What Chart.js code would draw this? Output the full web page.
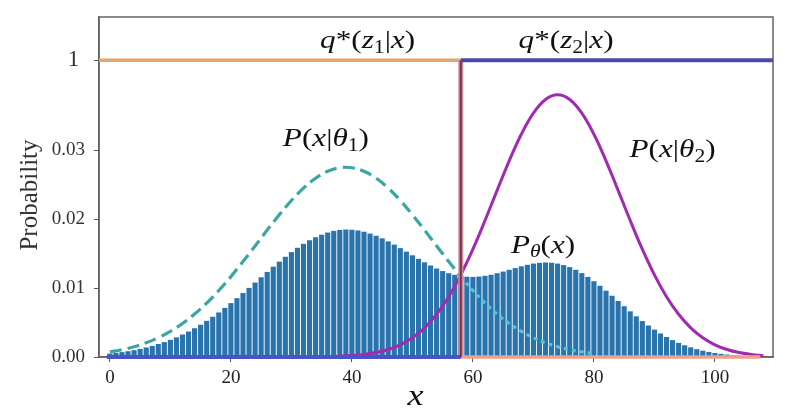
<!DOCTYPE html>
<html><head><meta charset="utf-8">
<script src="https://cdn.jsdelivr.net/npm/chart.js@4/dist/chart.umd.min.js"></script>
<style>html,body{margin:0;padding:0;background:#fff}#wrap{width:793px;height:420px}</style>
</head><body><div id="wrap"><canvas id="c" width="793" height="420"></canvas></div>
<script>
// ---- data ----
// mixture histogram P_theta(x), one bar per integer x = 0..106
const barValues = [
0.00050,0.00060,0.00071,0.00084,0.00100,0.00118,0.00138,0.00161,0.00188,0.00216,
0.00249,0.00285,0.00326,0.00369,0.00417,0.00468,0.00524,0.00583,0.00646,0.00712,
0.00781,0.00853,0.00927,0.01002,0.01079,0.01156,0.01233,0.01309,0.01382,0.01453,
0.01520,0.01583,0.01640,0.01692,0.01736,0.01773,0.01804,0.01828,0.01842,0.01848,
0.01845,0.01834,0.01816,0.01789,0.01757,0.01720,0.01676,0.01629,0.01578,0.01527,
0.01474,0.01423,0.01373,0.01326,0.01283,0.01246,0.01215,0.01191,0.01174,0.01164,
0.01161,0.01166,0.01177,0.01192,0.01214,0.01238,0.01264,0.01289,0.01314,0.01336,
0.01354,0.01365,0.01370,0.01366,0.01354,0.01332,0.01303,0.01264,0.01216,0.01161,
0.01099,0.01032,0.00961,0.00888,0.00812,0.00736,0.00662,0.00590,0.00521,0.00457,
0.00397,0.00341,0.00290,0.00245,0.00205,0.00170,0.00140,0.00114,0.00092,0.00074,
0.00058,0.00046,0.00036,0.00028,0.00021,0.00016,0.00012];
// P(x|theta1) dashed curve
const theta1X = [0,2,4,6,8,10,12,14,16,18,20,22,24,26,28,30,32,34,36,38,40,42,44,46,48,50,52,54,56,58,60,62,64,66,68,70,72,74,76,78,80];
const theta1Y = [0.00074,0.00106,0.00149,0.00206,0.00280,0.00372,0.00486,0.00622,0.00782,0.00964,0.01165,0.01383,0.01610,0.01840,0.02062,0.02268,0.02448,0.02591,0.02692,0.02743,0.02743,0.02692,0.02591,0.02448,0.02268,0.02062,0.01840,0.01610,0.01383,0.01165,0.00964,0.00782,0.00622,0.00486,0.00372,0.00280,0.00206,0.00149,0.00106,0.00074,0.00051];
// P(x|theta2) solid curve
const theta2X = [36,38,40,42,44,46,48,50,52,54,56,58,60,62,64,66,68,70,72,74,76,78,80,82,84,86,88,90,92,94,96,98,100,102,104,106,108];
const theta2Y = [0.00008,0.00011,0.00020,0.00037,0.00064,0.00109,0.00177,0.00279,0.00423,0.00619,0.00874,0.01190,0.01562,0.01978,0.02415,0.02843,0.03228,0.03534,0.03732,0.03800,0.03732,0.03534,0.03228,0.02843,0.02415,0.01978,0.01562,0.01190,0.00874,0.00619,0.00423,0.00279,0.00177,0.00109,0.00064,0.00037,0.00020];
// posteriors q*(z1|x), q*(z2|x): step at x = 58
const splitX = 58;
const q1X = [-1.8, splitX, splitX, 107.5];
const q1Y = [1, 1, 0, 0];
const q2X = [-0.5, splitX, splitX, 109.6];
const q2Y = [0, 0, 1, 1];
// axes
const xTicks = [0, 20, 40, 60, 80, 100];
const yTicks = [0, 0.01, 0.02, 0.03];
const ONE_AT = 0.0430;   // where the broken axis places probability "1"

const pts = (xs, ys) => xs.map((x, i) => ({x: x, y: ys[i] === 1 ? ONE_AT : ys[i]}));
const SERIF = '"Liberation Serif", "Times New Roman", serif';

function drawRich(ctx, segs, cx, by, size, sx) {
  const fontFor = st => (st.indexOf('i') >= 0 ? 'italic ' : '') + Math.round(st[0] === 's' ? size * 0.68 : size) + 'px ' + SERIF;
  let w = 0; const ws = [];
  segs.forEach(([t, st]) => { ctx.font = fontFor(st); const m = ctx.measureText(t).width; ws.push(m); w += m; });
  ctx.save(); ctx.translate(cx, by); ctx.scale(sx, 1);
  ctx.fillStyle = '#111'; ctx.textBaseline = 'alphabetic'; ctx.textAlign = 'left';
  let x = -w / 2;
  segs.forEach(([t, st], i) => { ctx.font = fontFor(st); ctx.fillText(t, x, st[0] === 's' ? size * 0.18 : 0); x += ws[i]; });
  ctx.restore();
}

const labels = [
  {x: 42.6, y: 0.0448, segs: [['q','i'],['*(','n'],['z','i'],['1','s'],['|','n'],['x','i'],[')','n']]},
  {x: 75.4, y: 0.0448, segs: [['q','i'],['*(','n'],['z','i'],['2','s'],['|','n'],['x','i'],[')','n']]},
  {x: 35.7, y: 0.0306, segs: [['P','i'],['(','n'],['x','i'],['|','n'],['θ','i'],['1','s'],[')','n']]},
  {x: 93.0, y: 0.0290, segs: [['P','i'],['(','n'],['x','i'],['|','n'],['θ','i'],['2','s'],[')','n']]},
  {x: 71.6, y: 0.0151, segs: [['P','i'],['θ','si'],['(','n'],['x','i'],[')','n']]}
];

const decor = {
  id: 'decor',
  beforeDatasetsDraw(chart) {
    const {ctx, chartArea: a} = chart;
    ctx.save(); ctx.strokeStyle = '#666'; ctx.lineWidth = 1.5;
    ctx.strokeRect(a.left, a.top, a.right - a.left, a.bottom - a.top);
    ctx.restore();
  },
  afterDraw(chart) {
    const {ctx} = chart; const xs = chart.scales.x, ys = chart.scales.y;
    labels.forEach(l => drawRich(ctx, l.segs, xs.getPixelForValue(l.x), ys.getPixelForValue(l.y), 26, 1.2));
    ctx.save(); ctx.fillStyle = '#333'; ctx.font = '25px ' + SERIF; ctx.textAlign = 'center'; ctx.textBaseline = 'middle';
    ctx.translate(30, 195); ctx.rotate(-Math.PI / 2); ctx.fillText('Probability', 0, 0); ctx.restore();
    drawRich(ctx, [['x','i']], xs.getPixelForValue(50.5), 405, 30, 1.2);
  }
};

new Chart(document.getElementById('c'), {
  type: 'bar',
  data: {
    datasets: [
      {type: 'line', data: pts(q2X, q2Y), order: 1, borderWidth: 4, pointRadius: 0, tension: 0, clip: false,
       borderColor: '#4a4ea8',
       segment: {borderColor: c => c.p0.parsed.x === c.p1.parsed.x ? '#6a3272' : (c.p0.parsed.y === 0 ? '#4a52c8' : '#4a4aa6'),
                 borderWidth: c => c.p0.parsed.x === c.p1.parsed.x ? 2 : 4}},
      {type: 'line', data: pts(q1X, q1Y), order: 2, borderWidth: 3.5, pointRadius: 0, tension: 0, clip: false,
       borderColor: '#e2a66c',
       segment: {borderColor: c => c.p0.parsed.x === c.p1.parsed.x ? '#d98c84' : (c.p0.parsed.y === 0 ? '#eda08a' : '#e2a66c'),
                 borderWidth: c => c.p0.parsed.x === c.p1.parsed.x ? 5 : 3.5}},
      {type: 'line', data: pts(theta2X, theta2Y), order: 3, borderColor: '#a02ab0', borderWidth: 3, pointRadius: 0, tension: 0.4},
      {type: 'line', data: pts(theta1X, theta1Y), order: 4, borderColor: '#3aa6a4', borderWidth: 3.2, pointRadius: 0, tension: 0.4,
       borderDash: [12, 6],
       segment: {borderColor: c => c.p0.parsed.x >= splitX ? '#52c4d8' : '#3aa6a4',
                 borderDash: c => c.p0.parsed.x >= splitX ? [4, 4] : [12, 6]}},
      {type: 'bar', data: barValues.map((v, i) => ({x: i, y: v})), order: 10, backgroundColor: '#2a74ae',
       barPercentage: 0.85, categoryPercentage: 1, borderWidth: 0}
    ]
  },
  options: {
    responsive: false, animation: false, devicePixelRatio: 1,
    layout: {padding: {left: 0, right: 20, top: 17, bottom: 0}},
    plugins: {legend: {display: false}, tooltip: {enabled: false}},
    scales: {
      x: {type: 'linear', min: -1.8, max: 109.6, offset: false,
          afterBuildTicks: s => { s.ticks = xTicks.map(v => ({value: v})); },
          afterFit: s => { s.height = 63; s.paddingLeft = 0; s.paddingRight = 0; },
          ticks: {font: {family: SERIF, size: 19}, color: '#222', padding: 5, callback: v => String(v)},
          grid: {drawOnChartArea: false, offset: false, tickLength: 5, color: '#555'},
          border: {color: '#555', width: 1.5}},
      y: {type: 'linear', min: 0, max: 0.04928,
          afterBuildTicks: s => { s.ticks = yTicks.concat([ONE_AT]).map(v => ({value: v})); },
          afterFit: s => { s.width = 99; s.paddingTop = 0; s.paddingBottom = 0; },
          ticks: {color: '#333', padding: 9,
                  font: c => ({family: SERIF, size: (c.tick && c.tick.value === ONE_AT) ? 23 : 19}),
                  callback: v => v === ONE_AT ? '1 ' : v.toFixed(2)},
          grid: {drawOnChartArea: false, tickLength: 5, color: '#555'},
          border: {color: '#555', width: 1.5}}
    }
  },
  plugins: [decor]
});
</script></body></html>
